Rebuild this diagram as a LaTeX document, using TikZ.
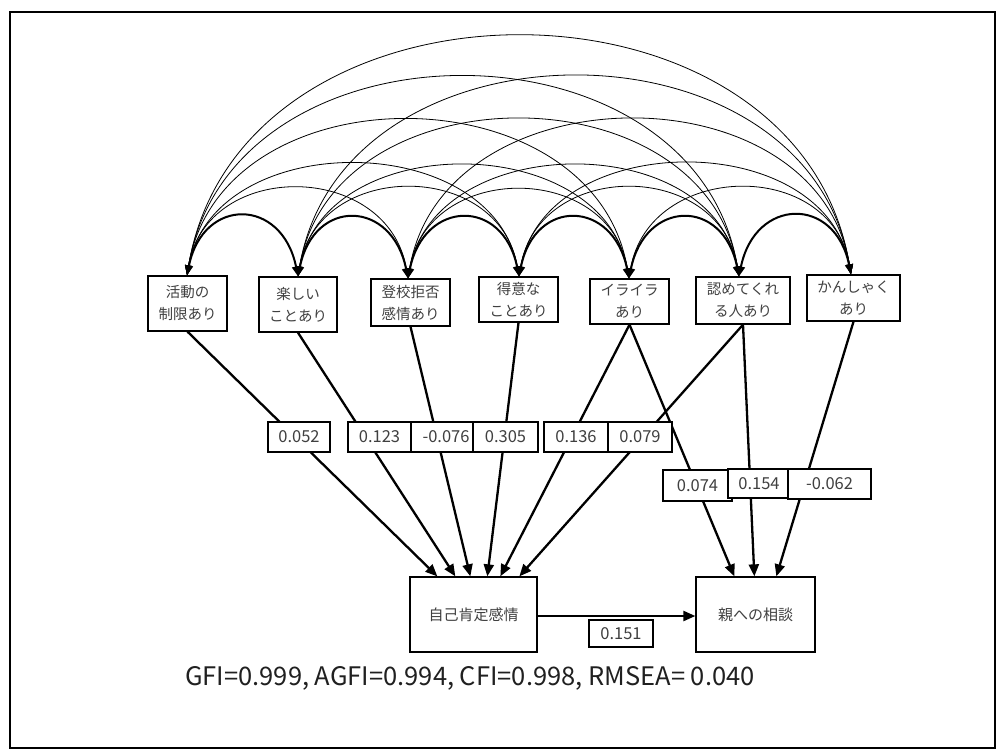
\documentclass[tikz,border=0pt]{standalone}
\usepackage{fontspec}
\setmainfont{Noto Sans CJK JP}
\usetikzlibrary{arrows.meta,calc}
\definecolor{txtgray}{HTML}{404040}
\definecolor{txtdark}{HTML}{202020}
\begin{document}
\begin{tikzpicture}[x=1pt,y=-1pt,
  var/.style={draw=black,line width=1.3pt,fill=white,inner sep=0pt,align=center,
    font=\fontsize{14.5}{22}\selectfont,text=txtgray},
  coef/.style={draw=black,line width=1.3pt,fill=white,inner sep=0pt,
    font=\fontsize{16.5}{18}\selectfont,text=txtgray},
  reg/.style={line width=2.3pt,-{Triangle[length=12pt,width=10pt]}},
  covthin/.style={line width=0.8pt,{Triangle[length=10pt,width=7pt]}-{Triangle[length=10pt,width=7pt]}},
  covthick/.style={line width=2pt,{Triangle[length=10pt,width=8pt]}-{Triangle[length=10pt,width=8pt]}},
  frame/.style={draw=black,line width=1.5pt}
]
\useasboundingbox (0,0) rectangle (1003,755);
\draw[frame] (10,12) rectangle (995,748);

% observed variables
\node[var,minimum width=79pt,minimum height=55pt] (b1) at (187.5,303.5) {活動の\\制限あり};
\node[var,minimum width=78pt,minimum height=55pt] (b2) at (298,304.5) {楽しい\\ことあり};
\node[var,minimum width=79pt,minimum height=47pt] (b3) at (410.5,302.5) {登校拒否\\感情あり};
\node[var,minimum width=79pt,minimum height=45pt] (b4) at (518.5,299.5) {得意な\\ことあり};
\node[var,minimum width=79pt,minimum height=45pt] (b5) at (629.5,301.5) {イライラ\\あり};
\node[var,minimum width=94pt,minimum height=47pt] (b6) at (743,300.5) {認めてくれ\\る人あり};
\node[var,minimum width=93pt,minimum height=46pt] (b7) at (853.5,298) {かんしゃく\\あり};

\node[var,font=\fontsize{15}{18}\selectfont,minimum width=127pt,minimum height=75pt] (self) at (473.5,614.5) {自己肯定感情};
\node[var,font=\fontsize{15}{18}\selectfont,minimum width=119pt,minimum height=75pt] (par) at (755.5,614.5) {親への相談};

% arc end points
\path (b1.north) ++(-0.5,0) coordinate (a1);
\path (b2.north) ++(0,0) coordinate (a2);
\path (b3.north) ++(-2.5,0) coordinate (a3);
\path (b4.north) ++(0.5,0) coordinate (a4);
\path (b5.north) ++(-0.5,0) coordinate (a5);
\path (b6.north) ++(-4,0) coordinate (a6);
\path (b7.north) ++(-2.5,0) coordinate (a7);

% covariances
\foreach \i in {1,...,6}{
  \pgfmathtruncatemacro{\s}{\i+1}
  \foreach \j in {\s,...,7}{
    \pgfmathtruncatemacro{\d}{\j-\i}
    \pgfmathsetmacro{\k}{{79,117,148,208,264,317}[\d-1]}
    \pgfmathsetmacro{\dx}{{16,20,27,35,44,53}[\d-1]}
    \ifnum\d=1\def\cst{covthick}\else\def\cst{covthin}\fi
    \draw[\cst] (a\i) .. controls +(\dx,-\k) and +(-\dx,-\k) .. (a\j);
  }
}

% regression end points
\path (self.north west) ++(28,0) coordinate (e1);
\path (self.north west) ++(46,0) coordinate (e2);
\path (self.north west) ++(61,0) coordinate (e3);
\path (self.north west) ++(78,0) coordinate (e4);
\path (self.north west) ++(91,0) coordinate (e5);
\path (self.north west) ++(110,0) coordinate (e6);
\path (par.north west) ++(39,0) coordinate (f5);
\path (par.north west) ++(59,0) coordinate (f6);
\path (par.north west) ++(81,0) coordinate (f7);

\draw[reg] (b1.south) -- (e1);
\draw[reg] (b2.south) -- (e2);
\draw[reg] (b3.south) -- (e3);
\draw[reg] (b4.south) -- (e4);
\draw[reg] (b5.south) -- (e5);
\draw[reg] (b6.south) -- (e6);
\draw[reg] (b5.south) -- (f5);
\draw[reg] (b6.south) -- (f6);
\draw[reg] (b7.south) -- (f7);
\draw[reg] (self.east |- 0,616) -- (par.west |- 0,616);

% coefficients
\node[coef,minimum width=62pt,minimum height=30pt] (c1) at (299,437) {0.052};
\node[coef,minimum width=63pt,minimum height=30pt] (c2) at (379.5,437) {0.123};
\node[coef,minimum width=62pt,minimum height=30pt] (c3) at (442,437) {\hspace{8pt}-0.076};
\node[coef,minimum width=65pt,minimum height=30pt] (c4) at (505.5,437) {0.305};
\node[coef,minimum width=64pt,minimum height=30pt] (c5) at (576,437) {0.136};
\node[coef,minimum width=64pt,minimum height=30pt] (c6) at (640,437) {0.079};
\node[coef,minimum width=69pt,minimum height=31pt] (c7) at (697.5,485.5) {0.074};
\node[coef,minimum width=62pt,minimum height=29pt] (c8) at (759,483.5) {0.154};
\node[coef,minimum width=83pt,minimum height=30pt] (c9) at (829.5,484) {-0.062};
\node[coef,minimum width=64pt,minimum height=27pt] (c10) at (621,633.5) {0.151};

\node[anchor=base west,inner sep=0pt,text=txtdark,font=\fontsize{25.5}{28}\selectfont] (fit) at (185,685) {GFI=0.999, AGFI=0.994, CFI=0.998, RMSEA= 0.040};
\end{tikzpicture}
\end{document}
